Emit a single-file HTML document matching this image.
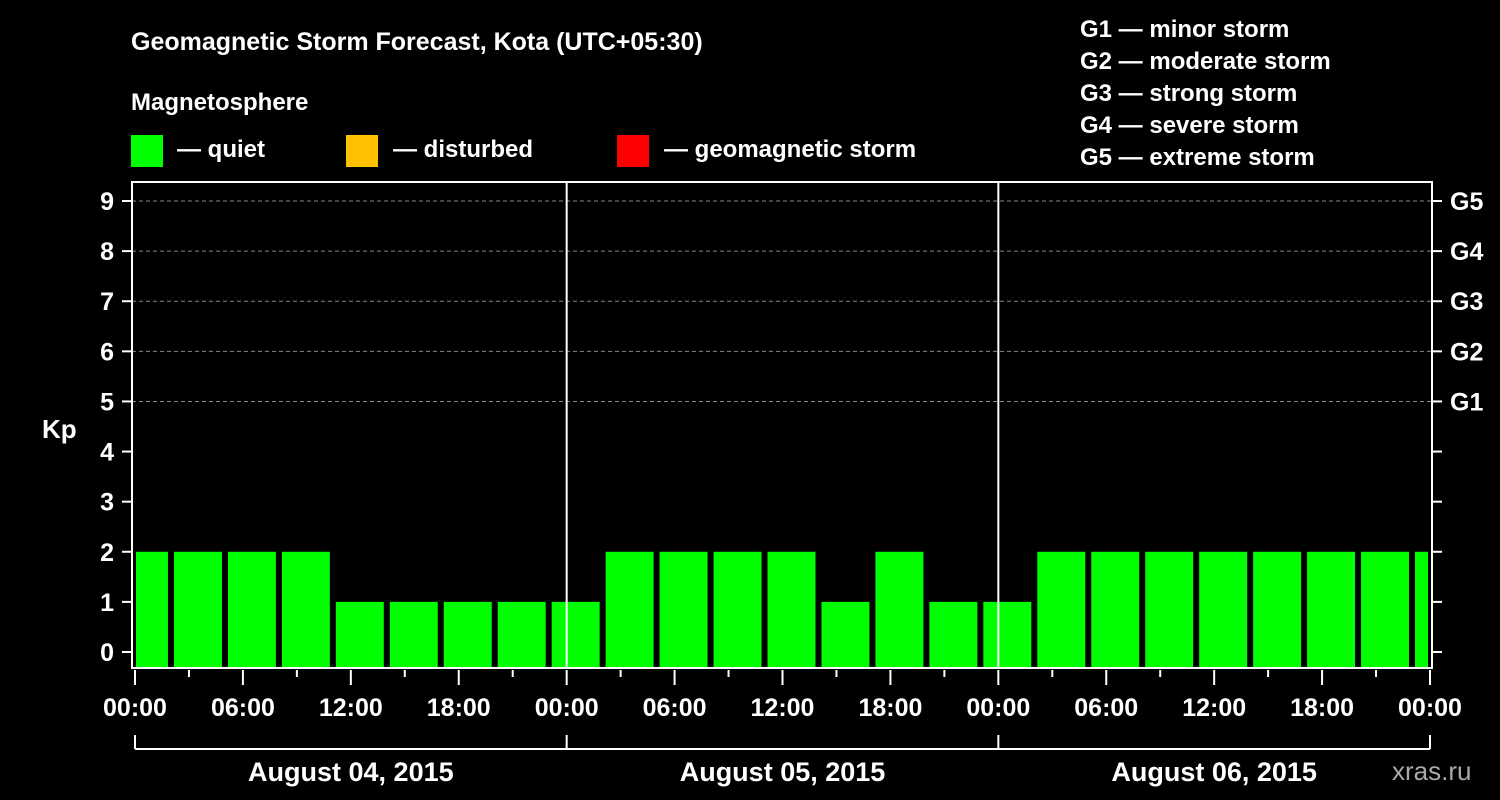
<!DOCTYPE html>
<html><head><meta charset="utf-8"><style>
html,body{margin:0;padding:0;background:#000;}
svg{display:block;font-family:"Liberation Sans",Arial,sans-serif;font-weight:bold;}
</style></head><body>
<svg id="chart" width="1500" height="800" viewBox="0 0 1500 800">
<rect x="0" y="0" width="1500" height="800" fill="#000"/>
<text x="131" y="50" fill="#fff" font-size="25">Geomagnetic Storm Forecast, Kota (UTC+05:30)</text>
<text x="131" y="110" fill="#fff" font-size="24">Magnetosphere</text>
<g><rect x="131" y="135" width="32" height="32" fill="#00ff00"/><text x="177" y="157" fill="#fff" font-size="24">— quiet</text></g>
<g><rect x="346" y="135" width="32" height="32" fill="#ffc000"/><text x="393" y="157" fill="#fff" font-size="24">— disturbed</text></g>
<g><rect x="617" y="135" width="32" height="32" fill="#ff0000"/><text x="664" y="157" fill="#fff" font-size="24">— geomagnetic storm</text></g>
<g fill="#fff" font-size="24">
<text x="1080" y="37">G1 — minor storm</text>
<text x="1080" y="69">G2 — moderate storm</text>
<text x="1080" y="101">G3 — strong storm</text>
<text x="1080" y="133">G4 — severe storm</text>
<text x="1080" y="165">G5 — extreme storm</text>
</g>
<text x="42" y="438" fill="#fff" font-size="26">Kp</text>
<g id="grid"></g><g id="bars"></g><g id="axes"></g>
<text x="1392" y="780" fill="#aaa" font-size="26" font-weight="normal">xras.ru</text>
</svg>
<script>
const kpValues=[2,2,2,2,1,1,1,1,1,2,2,2,2,1,2,1,1,2,2,2,2,2,2,2,2];
const dayLabels=["August 04, 2015","August 05, 2015","August 06, 2015"];
const yTicks=[0,1,2,3,4,5,6,7,8,9];
const gLabels=["G1","G2","G3","G4","G5"];
const hourLabels=["00:00","06:00","12:00","18:00"];
const NS="http://www.w3.org/2000/svg";
const X0=135,X1=1430,PL=132,PR=1432,PT=182,PB=668;
const xs=h=>X0+(X1-X0)*h/72;
const ys=v=>652-(652-201)*v/9;
function mk(tag,attrs,parent){const e=document.createElementNS(NS,tag);for(const k in attrs)e.setAttribute(k,attrs[k]);parent.appendChild(e);return e;}
const grid=document.getElementById('grid'),bars=document.getElementById('bars'),axes=document.getElementById('axes');
for(let v=5;v<=9;v++){const l=mk('line',{x1:PL,x2:PR,y1:ys(v),y2:ys(v),stroke:'#888','stroke-dasharray':'4,3','stroke-width':1},grid);

}
kpValues.forEach((v,k)=>{
 let a=xs(3*k-1)+3,b=xs(3*k+2)-3;a=Math.max(a,136);b=Math.min(b,1428);
 const col=v>=5?'#ff0000':(v>=4?'#ffc000':'#00ff00');
 const r=mk('rect',{x:a,y:ys(v),width:b-a,height:PB-ys(v),fill:col},bars);
 
 
});
const frame=mk('rect',{x:PL,y:PT,width:PR-PL,height:PB-PT,fill:'none',stroke:'#fff','stroke-width':2},axes);


[1,2].forEach(d=>{const l=mk('line',{x1:xs(24*d),x2:xs(24*d),y1:PT,y2:PB,stroke:'#fff','stroke-width':2},axes);

});
yTicks.forEach(v=>{
 mk('line',{x1:122,x2:PL,y1:ys(v),y2:ys(v),stroke:'#fff','stroke-width':2},axes);
 mk('line',{x1:PR,x2:1442,y1:ys(v),y2:ys(v),stroke:'#fff','stroke-width':2},axes);
 const t=mk('text',{x:114,y:ys(v)+9,fill:'#fff','font-size':25,'text-anchor':'end'},axes);t.textContent=v;
 
 
});
gLabels.forEach((g,i)=>{const t=mk('text',{x:1450,y:ys(5+i)+9,fill:'#fff','font-size':25},axes);t.textContent=g;
 
 });
for(let h=0;h<=72;h+=3){const major=h%6===0;
 mk('line',{x1:xs(h),x2:xs(h),y1:PB+2,y2:major?685:677,stroke:'#fff','stroke-width':2},axes);
 if(major){const t=mk('text',{x:xs(h),y:716,fill:'#fff','font-size':25,'text-anchor':'middle'},axes);t.textContent=hourLabels[(h%24)/6];
 
 }}
mk('line',{x1:X0,x2:X1,y1:749,y2:749,stroke:'#fff','stroke-width':2},axes);
for(let d=0;d<=3;d++)mk('line',{x1:xs(24*d),x2:xs(24*d),y1:735,y2:749,stroke:'#fff','stroke-width':2},axes);
dayLabels.forEach((s,d)=>{const t=mk('text',{x:xs(24*d+12),y:781,fill:'#fff','font-size':27,'text-anchor':'middle'},axes);t.textContent=s;
 
 });
</script>
</body></html>
